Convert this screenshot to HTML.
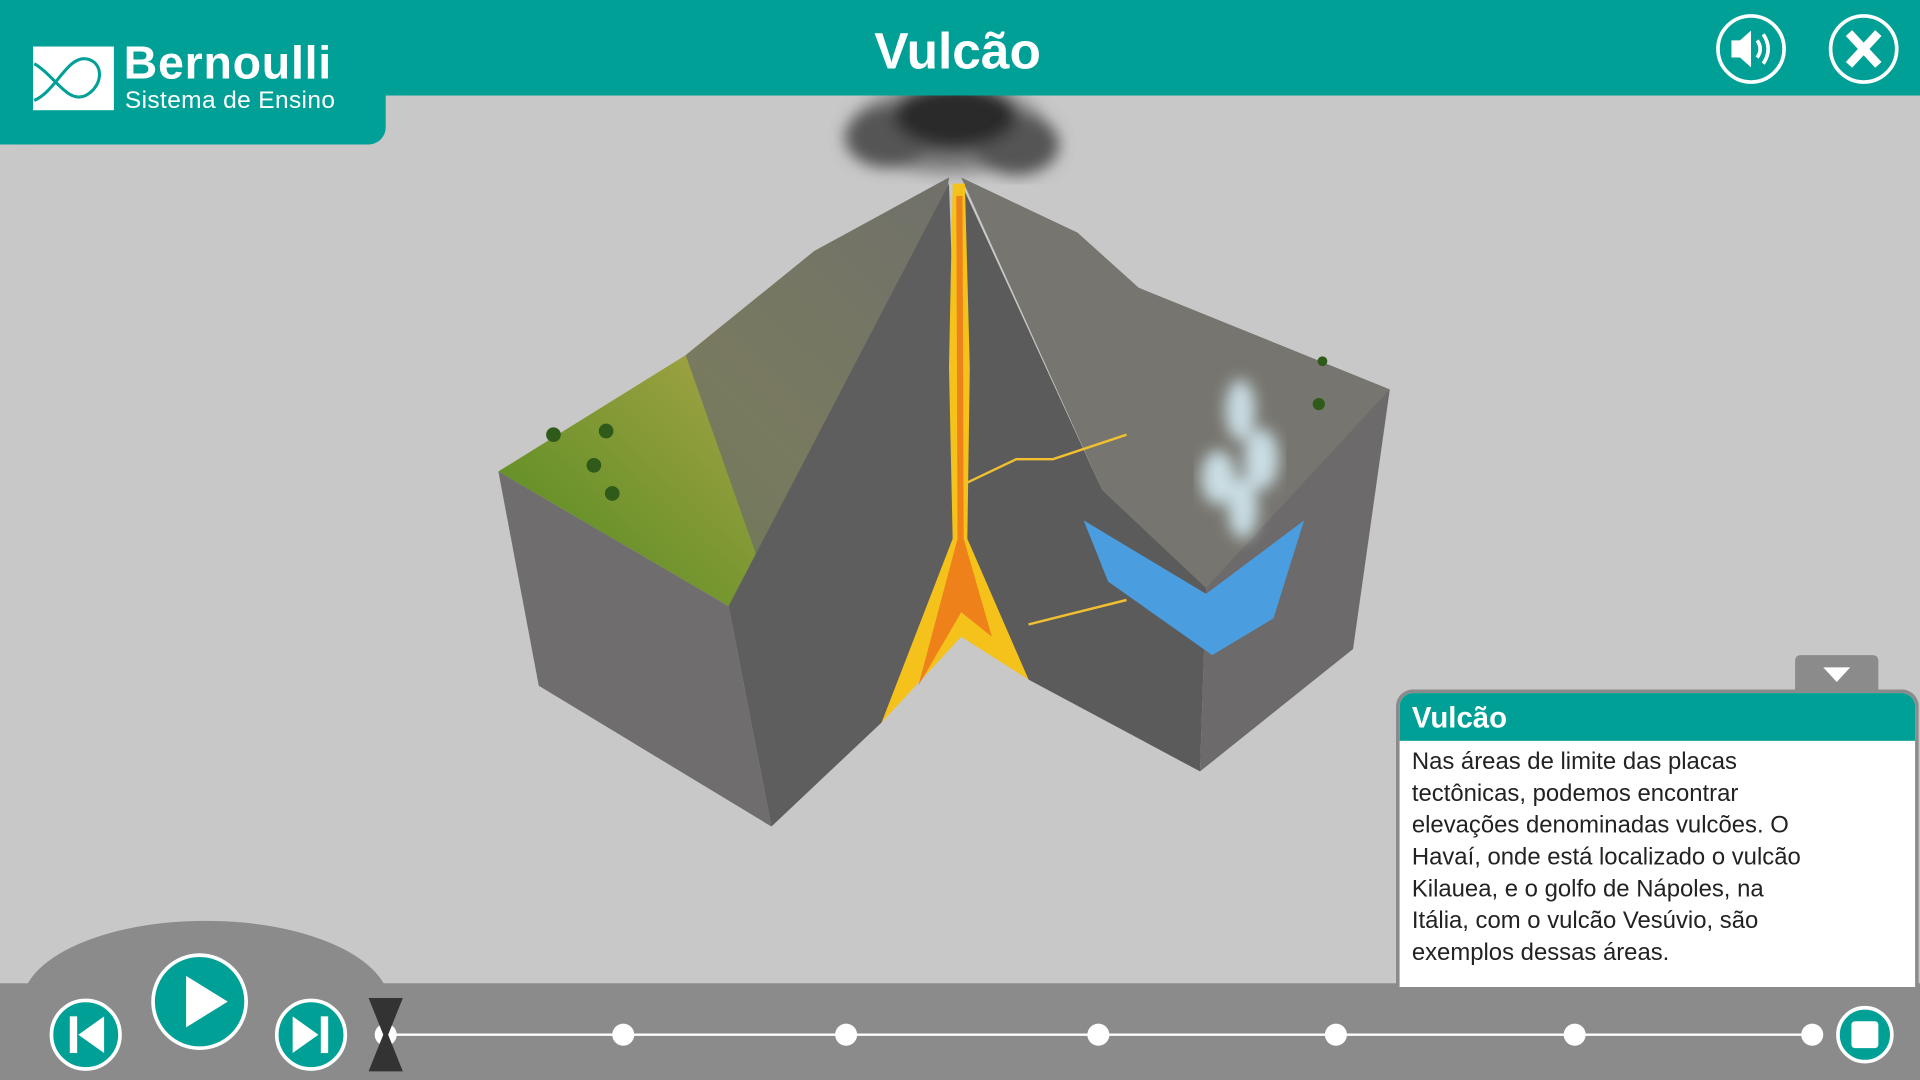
<!DOCTYPE html>
<html><head><meta charset="utf-8">
<style>
html,body{margin:0;padding:0;width:1920px;height:1080px;overflow:hidden;background:#c8c8c8;font-family:"Liberation Sans",sans-serif}
#wrap{position:absolute;left:0;top:0;width:1568px;height:882px;transform:scale(1.22449);transform-origin:0 0;background:#c8c8c8}
.abs{position:absolute}
</style></head>
<body>
<div id="wrap">
<svg class="abs" style="left:0;top:0" width="1568" height="882">
  <defs>
    <linearGradient id="grass" x1="0" y1="1" x2="1" y2="0"><stop offset="0" stop-color="#4f8a1e"/><stop offset="0.5" stop-color="#9aa040"/><stop offset="1" stop-color="#7a7a70"/></linearGradient>
    <radialGradient id="smoke"><stop offset="0" stop-color="#222"/><stop offset="1" stop-color="#666" stop-opacity="0.5"/></radialGradient>
    <filter id="blur"><feGaussianBlur stdDeviation="6"/></filter>
  </defs>
  <g filter="url(#blur)">
    <ellipse cx="775" cy="105" rx="80" ry="38" fill="url(#smoke)"/>
    <ellipse cx="725" cy="112" rx="35" ry="25" fill="#555"/>
    <ellipse cx="830" cy="118" rx="35" ry="25" fill="#555"/>
    <ellipse cx="780" cy="95" rx="50" ry="25" fill="#2a2a2a"/>
  </g>
  <polygon points="407,385 560,290 665,205 775,145 760,260 690,380 595,495" fill="url(#grass)"/>
  <polygon points="560,290 665,205 775,145 760,260 690,380 620,460" fill="#6e6e6a" opacity="0.75"/>
  <polygon points="407,385 595,495 630,675 440,560" fill="#6f6d6d"/>
  <polygon points="595,495 775,150 785,440 720,590 630,675" fill="#5f5e5e"/>
  <polygon points="785,145 880,190 930,235 1135,318 1060,425 985,480 900,400" fill="#77756f"/>
  <polygon points="785,150 900,400 985,480 980,630 840,555 785,440" fill="#5c5b5b"/>
  <polygon points="985,480 1135,318 1105,530 980,630" fill="#6c6a6a"/>
  <polygon points="885,425 985,485 1065,425 1040,505 990,535 905,475" fill="#4a9ee0"/>
  <g fill="#d8f0f8" opacity="0.85" filter="url(#blur)">
    <ellipse cx="1013" cy="335" rx="12" ry="25"/><ellipse cx="1030" cy="375" rx="14" ry="25"/>
    <ellipse cx="995" cy="390" rx="14" ry="22"/><ellipse cx="1015" cy="415" rx="12" ry="25"/>
  </g>
  <polygon points="778,150 788,150 792,300 790,440 840,555 785,520 720,590 778,440 775,300" fill="#f4c21a"/>
  <polygon points="781,160 786,160 787,440 810,520 785,500 750,560 782,440" fill="#e8401a" opacity="0.5"/>
  <polyline points="788,395 830,375 860,375 920,355" fill="none" stroke="#f0c030" stroke-width="2"/>
  <polyline points="840,510 880,500 920,490" fill="none" stroke="#f0c030" stroke-width="2"/>
  <g fill="#2f5a1a">
    <circle cx="452" cy="355" r="6"/><circle cx="495" cy="352" r="6"/><circle cx="485" cy="380" r="6"/><circle cx="500" cy="403" r="6"/><circle cx="1077" cy="330" r="5"/><circle cx="1080" cy="295" r="4"/>
  </g>
  <ellipse cx="168" cy="820" rx="150" ry="68" fill="#8b8b8b"/>
  <rect x="0" y="803" width="1568" height="79" fill="#8b8b8b"/>
  <line x1="315" y1="845" x2="1480" y2="845" stroke="#fff" stroke-width="2"/>
  <g fill="#fff">
    <circle cx="509" cy="845" r="9"/>
    <circle cx="691" cy="845" r="9"/>
    <circle cx="897" cy="845" r="9"/>
    <circle cx="1091" cy="845" r="9"/>
    <circle cx="1286" cy="845" r="9"/>
    <circle cx="1480" cy="845" r="9"/>
    <circle cx="315" cy="845" r="9"/>
  </g>
  <polygon points="301,815 329,815 317,845 329,875 301,875 313,845" fill="#333"/>
  <g>
    <circle cx="70" cy="845" r="28" fill="#00a096" stroke="#fff" stroke-width="3"/>
    <rect x="57" y="830" width="6" height="30" fill="#fff"/><polygon points="85,830 85,860 64,845" fill="#fff"/>
  </g>
  <g>
    <circle cx="163" cy="818" r="38" fill="#00a096" stroke="#fff" stroke-width="3"/>
    <polygon points="152,797 152,839 186,818" fill="#fff"/>
  </g>
  <g>
    <circle cx="254" cy="845" r="28" fill="#00a096" stroke="#fff" stroke-width="3"/>
    <polygon points="239,830 239,860 260,845" fill="#fff"/><rect x="262" y="830" width="6" height="30" fill="#fff"/>
  </g>
  <g>
    <circle cx="1523" cy="845" r="22" fill="#00a096" stroke="#fff" stroke-width="3"/>
    <rect x="1512" y="834" width="22" height="22" rx="3" fill="#fff"/>
  </g>
  <rect x="0" y="0" width="1568" height="78" fill="#00a096"/>
  <rect x="0" y="0" width="315" height="118" rx="14" fill="#00a096"/>
  <rect x="0" y="0" width="30" height="118" fill="#00a096"/>
  <g>
    <rect x="27" y="38" width="66" height="52" fill="#fff"/>
    <path d="M28,52 C45,62 55,85 70,78 C85,70 85,50 70,48 C55,46 45,75 28,82" fill="none" stroke="#00a096" stroke-width="2.5"/>
  </g>
  <g>
    <circle cx="1430" cy="40" r="27" fill="none" stroke="#fff" stroke-width="3"/>
    <polygon points="1414,33 1421,33 1430,25 1430,55 1421,47 1414,47" fill="#fff"/>
    <path d="M1435,33 Q1440,40 1435,47 M1440,28 Q1448,40 1440,52" fill="none" stroke="#fff" stroke-width="3"/>
  </g>
  <g>
    <circle cx="1522" cy="40" r="27" fill="none" stroke="#fff" stroke-width="3"/>
    <path d="M1510,27 L1534,53 M1534,27 L1510,53" stroke="#fff" stroke-width="7"/>
  </g>
  <path d="M1466,565 L1466,540 Q1466,535 1471,535 L1529,535 Q1534,535 1534,540 L1534,565 Z" fill="#8b8b8b"/>
  <polygon points="1489,545 1511,545 1500,557" fill="#fff"/>
</svg>
<div class="abs" style="left:101px;top:32px;color:#fff;font-size:38px;font-weight:bold;line-height:40px;letter-spacing:0.6px">Bernoulli</div>
<div class="abs" style="left:102px;top:71px;color:#fff;font-size:20px;line-height:22px;letter-spacing:0.3px">Sistema de Ensino</div>
<div class="abs" style="left:0;width:1568px;top:18px;text-align:center;color:#fff;font-size:42px;font-weight:bold;line-height:48px;"><span style="position:relative;left:-2px">Vulcão</span></div>
<div class="abs" style="left:1140px;top:563px;width:421px;height:240px;background:#fff;border:3px solid #8b8b8b;border-bottom:none;border-radius:14px 14px 0 0;overflow:hidden">
  <div style="background:#00a096;color:#fff;font-weight:bold;font-size:24px;height:39px;line-height:42px;padding-left:10px">Vulcão</div>
  <div style="padding:4px 10px;color:#222;font-size:19.5px;line-height:26px;white-space:nowrap">Nas áreas de limite das placas<br>tectônicas, podemos encontrar<br>elevações denominadas vulcões. O<br>Havaí, onde está localizado o vulcão<br>Kilauea, e o golfo de Nápoles, na<br>Itália, com o vulcão Vesúvio, são<br>exemplos dessas áreas.</div>
</div>
</div>
</body></html>
